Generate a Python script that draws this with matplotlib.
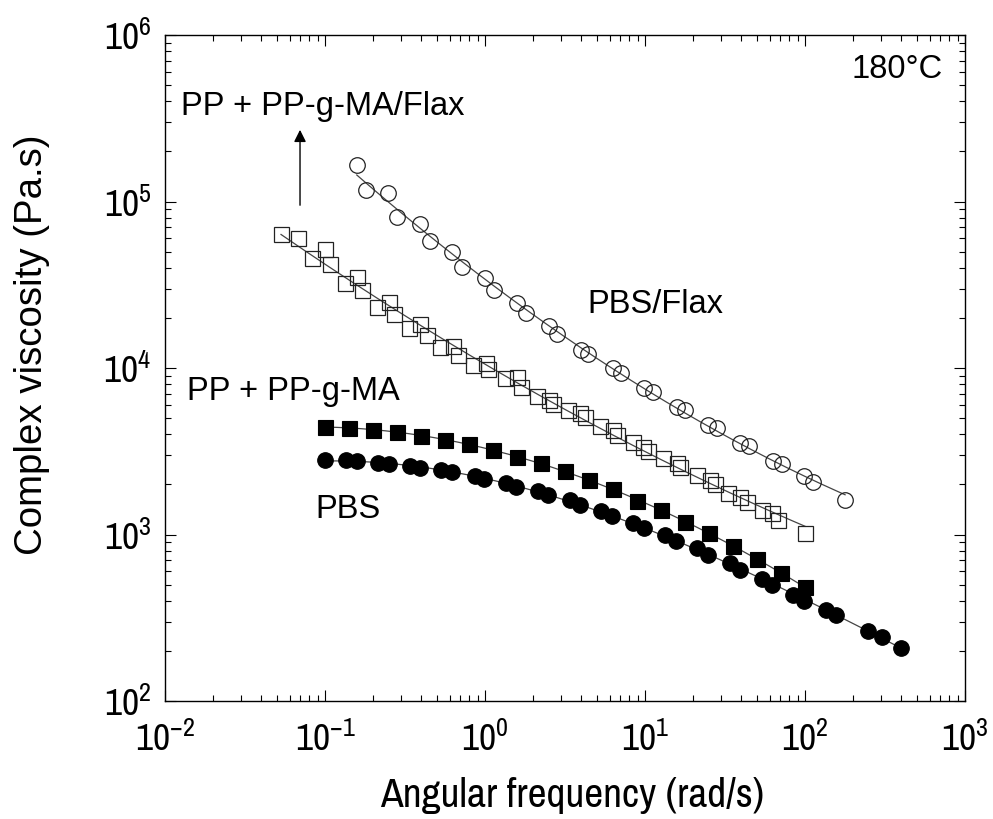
import numpy as np
import matplotlib
matplotlib.use("Agg")
import matplotlib.pyplot as plt
from matplotlib import font_manager as fm

names = {f.name for f in fm.fontManager.ttflist}
pref = ['Liberation Sans Narrow', 'Arial Narrow', 'Archivo Narrow', 'Roboto Condensed']
tfam = next((n for n in pref if n in names), 'Liberation Sans')

# PBS (filled circles)
pbs_w = [0.1, 0.135, 0.158, 0.213, 0.251, 0.34, 0.393, 0.531, 0.625, 0.866, 0.99,
         1.35, 1.56, 2.13, 2.49, 3.4, 3.93, 5.31, 6.19, 8.45, 9.9, 13.3, 15.6, 21.0,
         24.9, 34.0, 39.3, 54.1, 62.5, 84.5, 98.6, 135, 156, 249, 301, 398]
pbs_eta = [2799, 2793, 2761, 2698, 2642, 2570, 2500, 2438, 2366, 2244, 2153,
           2028, 1936, 1824, 1726, 1611, 1503, 1384, 1291, 1178, 1089, 993, 914, 826,
           753, 671, 612, 541, 498, 434, 401, 352, 329, 263, 242, 209]

# PP + PP-g-MA (filled squares)
pp_w = [0.1, 0.141, 0.2, 0.282, 0.398, 0.562, 0.794, 1.12, 1.58, 2.24, 3.16,
        4.47, 6.31, 8.91, 12.6, 17.8, 25.1, 35.5, 50.1, 70.8, 100]
pp_eta = [4436, 4375, 4243, 4112, 3920, 3696, 3483, 3219, 2934, 2677, 2406,
          2124, 1867, 1600, 1403, 1193, 1016, 857, 710, 590, 482]

# PP + PP-g-MA/Flax (open squares)
ppf_w = [0.0531, 0.068, 0.0834, 0.1, 0.107, 0.133, 0.158, 0.170, 0.210, 0.252,
         0.271, 0.336, 0.393, 0.433, 0.524, 0.634, 0.680, 0.845, 1.01, 1.05,
         1.33, 1.58, 1.69, 2.10, 2.52, 2.67, 3.32, 3.92, 4.22, 5.23, 6.34, 6.66,
         8.45, 9.75, 10.5, 13.0, 15.8, 16.5, 21.0, 25.5, 27.4, 33.2, 39.3, 43.2,
         53.6, 61.9, 68.1, 100]
ppf_eta = [63500, 60700, 45600, 51600, 42200, 32500, 35300, 29400, 23300, 25000,
           21000, 17300, 18400, 15800, 13400, 13600, 12000, 10400, 10700, 9800,
           8670, 8790, 7720, 6790, 6430, 6080, 5600, 5350, 5060, 4490, 4250, 3960,
           3610, 3370, 3190, 2890, 2680, 2550, 2280, 2120, 2000, 1780, 1690, 1570,
           1400, 1340, 1220, 1016]

# PBS/Flax (open circles)
pbsf_w = [0.158, 0.180, 0.249, 0.281, 0.393, 0.453, 0.619, 0.715, 1.0, 1.14,
          1.58, 1.80, 2.52, 2.83, 3.98, 4.42, 6.34, 7.05, 9.86, 11.3, 15.8, 17.8,
          24.9, 28.1, 39.3, 44.9, 63.4, 71.5, 99.1, 113, 178]
pbsf_eta = [165600, 118000, 112000, 81100, 73300, 58200, 50000, 40600, 34600, 29400,
            24400, 21400, 17900, 16100, 12900, 12200, 9950, 9370, 7560, 7210, 5860, 5600,
            4550, 4350, 3530, 3400, 2760, 2640, 2250, 2070, 1610]

W, H = 993, 819
fig = plt.figure(figsize=(W / 100, H / 100), dpi=100)
ax = fig.add_axes([165 / W, 1 - 701 / H, 800 / W, 666 / H])

def fit_line(w, eta, deg):
    lw, le = np.log10(w), np.log10(eta)
    c = np.polyfit(lw, le, deg)
    xs = np.linspace(lw.min(), lw.max(), 200)
    ax.plot(10 ** xs, 10 ** np.polyval(c, xs), color='#444444', lw=0.9, zorder=2)

ms = 11.2
fit_line(pbs_w, pbs_eta, 3)
fit_line(pp_w, pp_eta, 3)
fit_line(ppf_w, ppf_eta, 2)
fit_line(pbsf_w, pbsf_eta, 2)
ax.plot(pbs_w, pbs_eta, 'o', ms=ms, mfc='black', mec='black', mew=0.8, ls='none', zorder=3)
ax.plot(pp_w, pp_eta, 's', ms=ms - 0.4, mfc='black', mec='black', mew=0.8, ls='none', zorder=3)
ax.plot(ppf_w, ppf_eta, 's', ms=ms - 0.4, mfc='none', mec='#222222', mew=0.9, ls='none', zorder=3)
ax.plot(pbsf_w, pbsf_eta, 'o', ms=ms, mfc='none', mec='#222222', mew=0.9, ls='none', zorder=3)

ax.set_xscale('log')
ax.set_yscale('log')
ax.set_xlim(1e-2, 1e3)
ax.set_ylim(1e2, 1e6)
for s in ax.spines.values():
    s.set_linewidth(1.0)
ax.tick_params(which='both', direction='in', top=True, right=True, width=0.8)
ax.tick_params(which='major', length=8)
ax.tick_params(which='minor', length=4)
ax.tick_params(axis='x', pad=14)
ax.tick_params(axis='y', pad=10)

fig.canvas.draw()
for lab in ax.get_xticklabels() + ax.get_yticklabels():
    lab.set_fontfamily(tfam)
    lab.set_fontsize(27)

def fit_size(t, target, axis=0):
    r = fig.canvas.get_renderer()
    bb = t.get_window_extent(r)
    cur = bb.width if axis == 0 else bb.height
    t.set_fontsize(t.get_fontsize() * target / cur)

xl = fig.text(572 / W, 1 - 807 / H, 'Angular frequency (rad/s)', family=tfam,
              fontsize=28, ha='center', va='baseline')
yl = fig.text(32 / W, 1 - 345 / H, 'Complex viscosity (Pa.s)', family='Liberation Sans',
              fontsize=26, ha='center', va='center', rotation=90)
fit_size(xl, 385, 0)
fit_size(yl, 420, 1)

def ftext(x, y, s, width):
    t = fig.text(x / W, 1 - y / H, s, family='Liberation Sans', fontsize=23.5, va='baseline')
    return t

ftext(852, 78, '180°C', 90)
ftext(181, 115, 'PP + PP-g-MA/Flax', 282)
ftext(187, 400, 'PP + PP-g-MA', 215)
ftext(315, 518, 'PBS', 63)
ftext(587, 313, 'PBS/Flax', 133)

ax.annotate('', xy=(0.0698, 2.8e5), xytext=(0.0698, 9.14e4),
            arrowprops=dict(arrowstyle='-|>', color='black', lw=1.0, mutation_scale=18))

fig.savefig('out.png', dpi=100)
